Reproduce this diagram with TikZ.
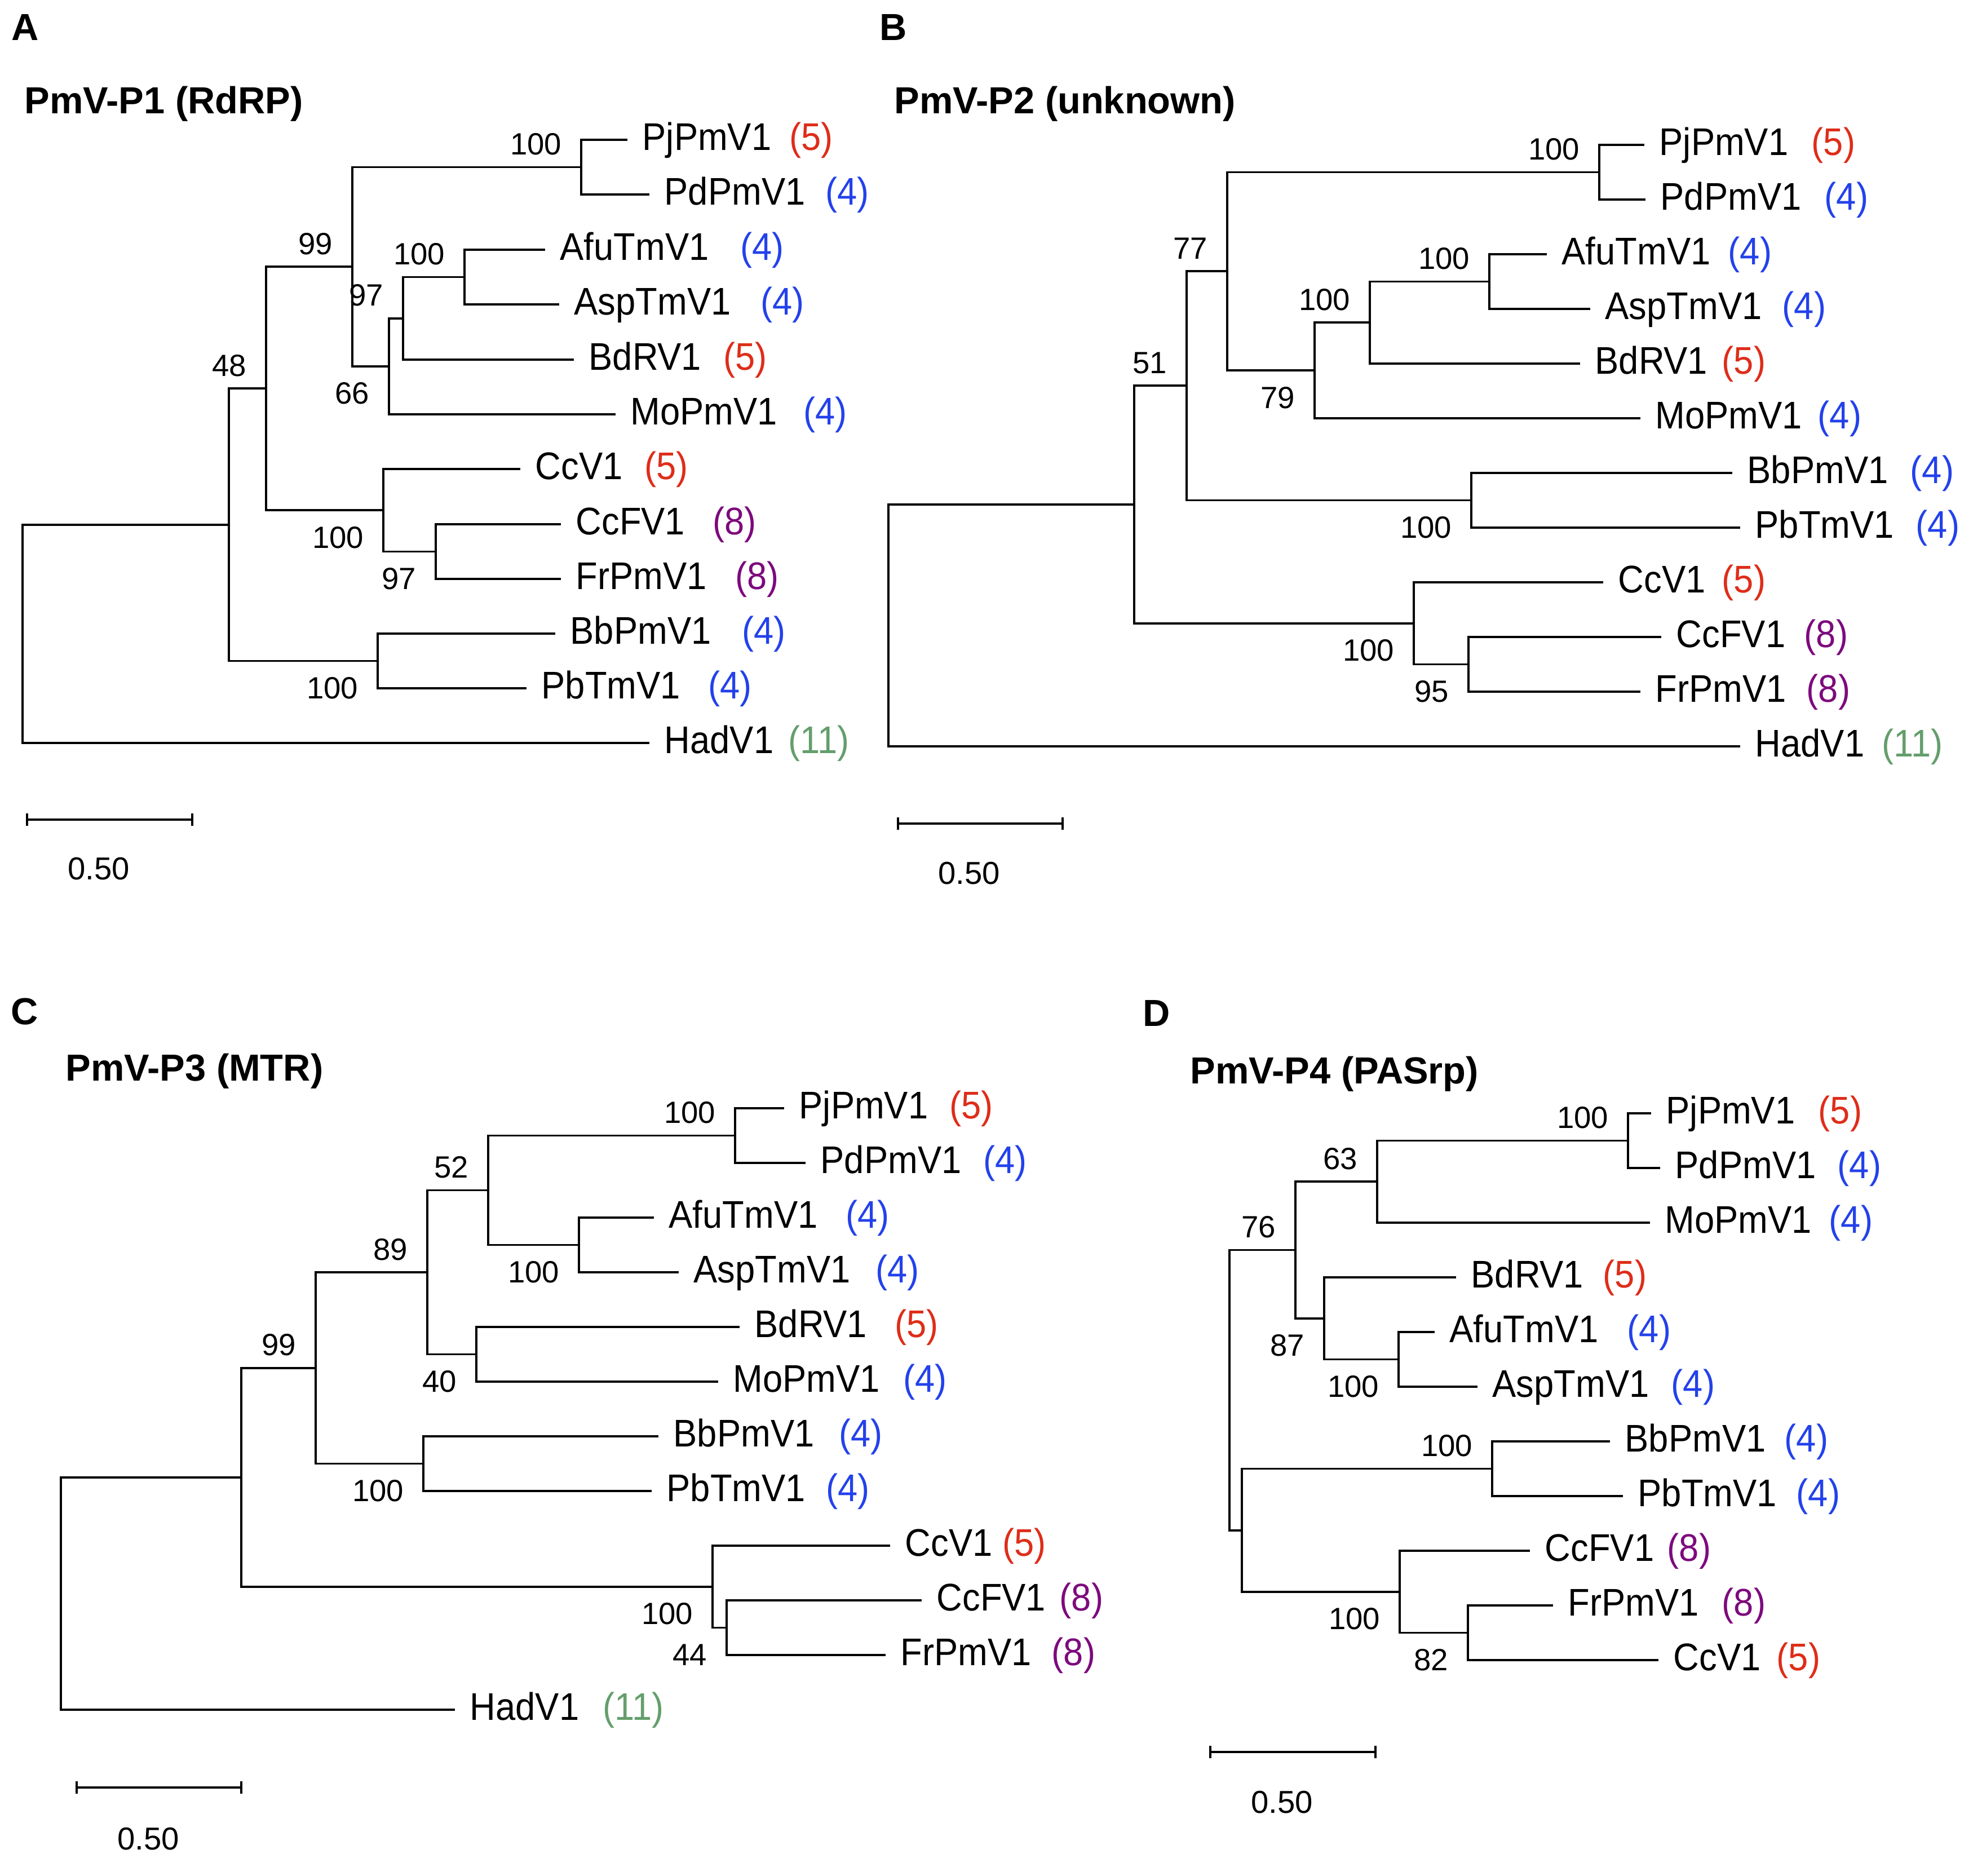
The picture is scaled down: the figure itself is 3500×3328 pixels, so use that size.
\documentclass[tikz,border=0pt]{standalone}
\usepackage{fontspec}
\setmainfont{Liberation Sans}
\usepackage{xcolor}
\usepackage{graphicx}
\usepackage{tikz}
\usetikzlibrary{calc}
\definecolor{cfive}{RGB}{222,45,25}
\definecolor{cfour}{RGB}{35,65,235}
\definecolor{ceight}{RGB}{125,10,125}
\definecolor{celeven}{RGB}{100,158,108}
\tikzstyle{branch} = [line width=1.1pt]
\tikzstyle{taxon} = [anchor=base west, inner sep=0pt, xshift=2.6mm, yshift=-1.8mm, font=\fontsize{18}{20}\selectfont]
\tikzstyle{count} = [anchor=base west, inner sep=0pt, xshift=-0.4mm, yshift=-1.8mm, font=\fontsize{18}{20}\selectfont]
\tikzstyle{cnt5} = [text=cfive]
\tikzstyle{cnt4} = [text=cfour]
\tikzstyle{cnt8} = [text=ceight]
\tikzstyle{cnt11} = [text=celeven]
\tikzstyle{bsup} = [anchor=base east, inner sep=0pt, xshift=-3.4mm, yshift=2.2mm, font=\fontsize{15.5}{17}\selectfont]
\tikzstyle{bsdown} = [anchor=base east, inner sep=0pt, xshift=-3.4mm, yshift=-6.7mm, font=\fontsize{15.5}{17}\selectfont]
\tikzstyle{panel} = [anchor=base west, inner sep=0pt, font=\fontsize{19}{21}\selectfont\bfseries]
\tikzstyle{barlabel} = [inner sep=0pt, font=\fontsize{16}{18}\selectfont]
% leaf: name, x, y, label, x of count, count
\newcommand{\tipnode}[6]{%
  \coordinate (#1) at (#2,#3);
  \node[taxon] (#1-name) at (#1) {\scalebox{1}[1.08]{#4}};
  \node[count, cnt#6] (#1-cnt) at (#5,#3) {\scalebox{1}[1.08]{(#6)}};}
% inner node: name, x, upper child, lower child
\newcommand{\clade}[4]{%
  \path ($(#3)!0.5!(#4)$) coordinate (#1-m);
  \coordinate (#1) at (#2,0 |- #1-m);
  \draw[branch] (#1) |- (#3);
  \draw[branch] (#1) |- (#4);}
\newcommand{\drawbar}[6]{%
  \coordinate (#1-s0) at (#2,#4);
  \coordinate (#1-s1) at (#3,#4);
  \draw[branch] (#1-s0) -- (#1-s1);
  \draw[branch] ([yshift=1.1mm]#1-s0) -- ([yshift=-1.1mm]#1-s0);
  \draw[branch] ([yshift=1.1mm]#1-s1) -- ([yshift=-1.1mm]#1-s1);
  \node[barlabel] (#1-sl) at (#5,#6) {0.50};}

\begin{document}
\begin{tikzpicture}[x=0.01cm, y=-0.01cm]
    \useasboundingbox (0,0) rectangle (3500,3328);

    % A
    \node[panel] (labA) at (20,72) {A};
    \node[panel] (titA) at (43,202) {PmV-P1 (RdRP)};
    \tipnode{a-pj}{1113}{248}{PjPmV1}{1404}{5}
    \tipnode{a-pd}{1152}{345}{PdPmV1}{1468}{4}
    \tipnode{a-afu}{967}{443}{AfuTmV1}{1317}{4}
    \tipnode{a-asp}{992}{540}{AspTmV1}{1353}{4}
    \tipnode{a-bd}{1018}{638}{BdRV1}{1287}{5}
    \tipnode{a-mo}{1092}{735}{MoPmV1}{1429}{4}
    \tipnode{a-cc}{923}{832}{CcV1}{1147}{5}
    \tipnode{a-ccf}{995}{930}{CcFV1}{1268}{8}
    \tipnode{a-fr}{995}{1027}{FrPmV1}{1308}{8}
    \tipnode{a-bb}{985}{1124}{BbPmV1}{1320}{4}
    \tipnode{a-pb}{934}{1221}{PbTmV1}{1260}{4}
    \tipnode{a-had}{1152}{1318}{HadV1}{1402}{11}
    \clade{a1}{1031}{a-pj}{a-pd}
    \clade{a2}{824}{a-afu}{a-asp}
    \clade{a3}{715}{a2}{a-bd}
    \clade{a4}{690}{a3}{a-mo}
    \clade{a5}{625}{a1}{a4}
    \clade{a7}{773}{a-ccf}{a-fr}
    \clade{a8}{680}{a-cc}{a7}
    \clade{a6}{472}{a5}{a8}
    \clade{a9}{670}{a-bb}{a-pb}
    \clade{a10}{406}{a6}{a9}
    \clade{a0}{40}{a10}{a-had}
    \node[bsup] at (a1) {100};
    \node[bsup] at (a2) {100};
    \node[bsup] at (a3) {97};
    \node[bsdown] at (a4) {66};
    \node[bsup] at (a5) {99};
    \node[bsdown] at (a7) {97};
    \node[bsdown] at (a8) {100};
    \node[bsup] at (a6) {48};
    \node[bsdown] at (a9) {100};
    \drawbar{a}{48}{341}{1454}{175}{1541}

    % B
    \node[panel] (labB) at (1560,72) {B};
    \node[panel] (titB) at (1586,202) {PmV-P2 (unknown)};
    \tipnode{b-pj}{2917}{257}{PjPmV1}{3217}{5}
    \tipnode{b-pd}{2919}{354}{PdPmV1}{3240}{4}
    \tipnode{b-afu}{2744}{451}{AfuTmV1}{3069}{4}
    \tipnode{b-asp}{2821}{548}{AspTmV1}{3165}{4}
    \tipnode{b-bd}{2803}{645}{BdRV1}{3058}{5}
    \tipnode{b-mo}{2910}{742}{MoPmV1}{3228}{4}
    \tipnode{b-bb}{3073}{839}{BbPmV1}{3392}{4}
    \tipnode{b-pb}{3087}{936}{PbTmV1}{3402}{4}
    \tipnode{b-cc}{2844}{1033}{CcV1}{3058}{5}
    \tipnode{b-ccf}{2947}{1130}{CcFV1}{3204}{8}
    \tipnode{b-fr}{2910}{1227}{FrPmV1}{3208}{8}
    \tipnode{b-had}{3087}{1324}{HadV1}{3342}{11}
    \clade{b1}{2837}{b-pj}{b-pd}
    \clade{b2}{2642}{b-afu}{b-asp}
    \clade{b3}{2430}{b2}{b-bd}
    \clade{b4}{2332}{b3}{b-mo}
    \clade{b5}{2177}{b1}{b4}
    \clade{b7}{2610}{b-bb}{b-pb}
    \clade{b6}{2105}{b5}{b7}
    \clade{b9}{2605}{b-ccf}{b-fr}
    \clade{b10}{2508}{b-cc}{b9}
    \clade{b8}{2012}{b6}{b10}
    \clade{b0}{1576}{b8}{b-had}
    \node[bsup] at (b1) {100};
    \node[bsup] at (b2) {100};
    \node[bsup] at (b3) {100};
    \node[bsdown] at (b4) {79};
    \node[bsup] at (b5) {77};
    \node[bsup] at (b6) {51};
    \node[bsdown] at (b7) {100};
    \node[bsdown] at (b9) {95};
    \node[bsdown] at (b10) {100};
    \drawbar{b}{1593}{1885}{1461}{1719}{1549}

    % C
    \node[panel] (labC) at (19,1817) {C};
    \node[panel] (titC) at (116,1917) {PmV-P3 (MTR)};
    \tipnode{c-pj}{1391}{1966}{PjPmV1}{1688}{5}
    \tipnode{c-pd}{1429}{2063}{PdPmV1}{1748}{4}
    \tipnode{c-afu}{1160}{2160}{AfuTmV1}{1504}{4}
    \tipnode{c-asp}{1204}{2257}{AspTmV1}{1557}{4}
    \tipnode{c-bd}{1312}{2354}{BdRV1}{1591}{5}
    \tipnode{c-mo}{1274}{2451}{MoPmV1}{1606}{4}
    \tipnode{c-bb}{1168}{2548}{BbPmV1}{1492}{4}
    \tipnode{c-pb}{1156}{2645}{PbTmV1}{1469}{4}
    \tipnode{c-cc}{1579}{2742}{CcV1}{1782}{5}
    \tipnode{c-ccf}{1635}{2839}{CcFV1}{1883}{8}
    \tipnode{c-fr}{1571}{2936}{FrPmV1}{1869}{8}
    \tipnode{c-had}{807}{3033}{HadV1}{1073}{11}
    \clade{c1}{1304}{c-pj}{c-pd}
    \clade{c2}{1027}{c-afu}{c-asp}
    \clade{c3}{866}{c1}{c2}
    \clade{c4}{845}{c-bd}{c-mo}
    \clade{c5}{758}{c3}{c4}
    \clade{c7}{751}{c-bb}{c-pb}
    \clade{c6}{560}{c5}{c7}
    \clade{c9}{1289}{c-ccf}{c-fr}
    \clade{c10}{1264}{c-cc}{c9}
    \clade{c8}{428}{c6}{c10}
    \clade{c0}{108}{c8}{c-had}
    \node[bsup] at (c1) {100};
    \node[bsdown] at (c2) {100};
    \node[bsup] at (c3) {52};
    \node[bsdown] at (c4) {40};
    \node[bsup] at (c5) {89};
    \node[bsup] at (c6) {99};
    \node[bsdown] at (c7) {100};
    \node[bsdown] at (c9) {44};
    \node[bsdown] at (c10) {100};
    \drawbar{c}{136}{428}{3171}{263}{3262}

    % D
    \node[panel] (labD) at (2027,1820) {D};
    \node[panel] (titD) at (2111,1922) {PmV-P4 (PASrp)};
    \tipnode{d-pj}{2929}{1975}{PjPmV1}{3229}{5}
    \tipnode{d-pd}{2945}{2072}{PdPmV1}{3263}{4}
    \tipnode{d-mo}{2927}{2169}{MoPmV1}{3248}{4}
    \tipnode{d-bd}{2583}{2266}{BdRV1}{2847}{5}
    \tipnode{d-afu}{2545}{2363}{AfuTmV1}{2890}{4}
    \tipnode{d-asp}{2621}{2460}{AspTmV1}{2968}{4}
    \tipnode{d-bb}{2856}{2557}{BbPmV1}{3169}{4}
    \tipnode{d-pb}{2879}{2654}{PbTmV1}{3190}{4}
    \tipnode{d-ccf}{2714}{2751}{CcFV1}{2961}{8}
    \tipnode{d-fr}{2755}{2848}{FrPmV1}{3058}{8}
    \tipnode{d-cc}{2942}{2945}{CcV1}{3155}{5}
    \clade{d1}{2888}{d-pj}{d-pd}
    \clade{d2}{2443}{d1}{d-mo}
    \clade{d4}{2481}{d-afu}{d-asp}
    \clade{d5}{2349}{d-bd}{d4}
    \clade{d3}{2298}{d2}{d5}
    \clade{d6}{2647}{d-bb}{d-pb}
    \clade{d7}{2604}{d-fr}{d-cc}
    \clade{d8}{2483}{d-ccf}{d7}
    \clade{d9}{2203}{d6}{d8}
    \clade{d0}{2181}{d3}{d9}
    \node[bsup] at (d1) {100};
    \node[bsup] at (d2) {63};
    \node[bsup] at (d3) {76};
    \node[bsdown] at (d4) {100};
    \node[bsdown] at (d5) {87};
    \node[bsup] at (d6) {100};
    \node[bsdown] at (d7) {82};
    \node[bsdown] at (d8) {100};
    \drawbar{d}{2147}{2440}{3108}{2274}{3197}
\end{tikzpicture}
\end{document}
